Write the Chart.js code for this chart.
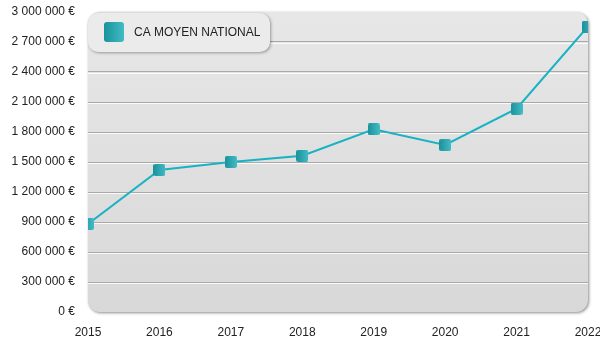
<!DOCTYPE html>
<html>
<head>
<meta charset="utf-8">
<script src="https://cdn.jsdelivr.net/npm/chart.js@4"></script>
<style>
  html, body { margin: 0; padding: 0; background: #fff; }
</style>
</head>
<body>
<canvas id="chart" width="600" height="350"></canvas>
<script>
const years = ['2015', '2016', '2017', '2018', '2019', '2020', '2021', '2022'];
const caMoyen = [880000, 1420000, 1500000, 1563000, 1827000, 1670000, 2033000, 2855000];
const seriesLabel = 'CA MOYEN NATIONAL';
const yMin = 0;
const yMax = 3000000;
const yStep = 300000;

const fontFamily = '"Liberation Sans", Arial, sans-serif';
const textColor = '#222';

function formatEuro(value) {
  return String(value).replace(/\B(?=(\d{3})+(?!\d))/g, ' ') + ' €';
}

function tealGradient(ctx, x0, x1) {
  const g = ctx.createLinearGradient(x0, 0, x1, 0);
  g.addColorStop(0, '#1a919b');
  g.addColorStop(1, '#42bcc4');
  return g;
}

function makeMarker(size, radius) {
  const c = document.createElement('canvas');
  c.width = size;
  c.height = size;
  const ctx = c.getContext('2d');
  ctx.fillStyle = tealGradient(ctx, 0, size);
  ctx.beginPath();
  ctx.roundRect(0, 0, size, size, radius);
  ctx.fill();
  return c;
}

// rounded, shaded plot area
const plotBackground = {
  id: 'plotBackground',
  beforeDraw(chart) {
    const { ctx, chartArea: a } = chart;
    ctx.save();
    ctx.shadowColor = 'rgba(0, 0, 0, 0.45)';
    ctx.shadowBlur = 3;
    ctx.shadowOffsetX = 1;
    ctx.shadowOffsetY = 1;
    const g = ctx.createLinearGradient(0, a.top, 0, a.bottom);
    g.addColorStop(0, '#e7e7e7');
    g.addColorStop(1, '#d8d8d8');
    ctx.fillStyle = g;
    ctx.beginPath();
    ctx.roundRect(a.left, a.top, a.width, a.height, 12);
    ctx.fill();
    ctx.restore();
  },
  beforeDatasetsDraw(chart) {
    // white highlight under each grid line
    const { ctx, chartArea: a, scales } = chart;
    ctx.save();
    ctx.strokeStyle = 'rgba(255, 255, 255, 0.85)';
    ctx.lineWidth = 1;
    scales.y.ticks.forEach((t) => {
      if (t.value === yMin || t.value === yMax) return;
      const py = Math.round(scales.y.getPixelForValue(t.value)) + 1.5;
      ctx.beginPath();
      ctx.moveTo(a.left, py);
      ctx.lineTo(a.right, py);
      ctx.stroke();
    });
    ctx.restore();
  },
};

// legend box sitting in the top-left corner of the plot
const cornerLegend = {
  id: 'cornerLegend',
  afterDraw(chart) {
    const { ctx, chartArea: a } = chart;
    const x = a.left;
    const y = a.top + 1;
    ctx.save();
    ctx.shadowColor = 'rgba(0, 0, 0, 0.35)';
    ctx.shadowBlur = 3;
    ctx.shadowOffsetX = 1;
    ctx.shadowOffsetY = 1;
    ctx.fillStyle = '#ebebeb';
    ctx.beginPath();
    ctx.roundRect(x, y, 182, 39, 10);
    ctx.fill();
    ctx.restore();

    ctx.save();
    ctx.fillStyle = tealGradient(ctx, x + 16, x + 36);
    ctx.beginPath();
    ctx.roundRect(x + 16, y + 9, 20, 20, 3);
    ctx.fill();
    ctx.fillStyle = textColor;
    ctx.font = '12px ' + fontFamily;
    ctx.textBaseline = 'middle';
    ctx.fillText(seriesLabel, x + 46, y + 20);
    ctx.restore();
  },
};

new Chart(document.getElementById('chart'), {
  type: 'line',
  data: {
    labels: years,
    datasets: [
      {
        label: seriesLabel,
        data: caMoyen,
        borderColor: '#17b2c4',
        borderWidth: 2,
        tension: 0,
        pointStyle: makeMarker(12, 2),
        clip: 0,
      },
    ],
  },
  options: {
    responsive: false,
    animation: false,
    layout: { autoPadding: false, padding: { top: 12, right: 12, left: 0, bottom: 0 } },
    plugins: {
      legend: { display: false },
      tooltip: { enabled: false },
    },
    scales: {
      x: {
        offset: false,
        grid: { display: false },
        border: { display: false },
        ticks: {
          color: textColor,
          font: { family: fontFamily, size: 12 },
          padding: 5,
          maxRotation: 0,
        },
        afterFit: (s) => {
          s.height = 38;
          s.paddingLeft = 0;
          s.paddingRight = 0;
        },
      },
      y: {
        min: yMin,
        max: yMax,
        border: { display: false },
        grid: {
          drawTicks: false,
          color: (c) =>
            c.tick && (c.tick.value === yMin || c.tick.value === yMax)
              ? 'rgba(0,0,0,0)'
              : '#a9a9a9',
        },
        ticks: {
          stepSize: yStep,
          color: textColor,
          font: { family: fontFamily, size: 12 },
          padding: 13,
          callback: (v) => formatEuro(v),
        },
        afterFit: (s) => {
          s.width = 88;
          s.paddingTop = 0;
          s.paddingBottom = 0;
        },
      },
    },
  },
  plugins: [plotBackground, cornerLegend],
});
</script>
</body>
</html>
